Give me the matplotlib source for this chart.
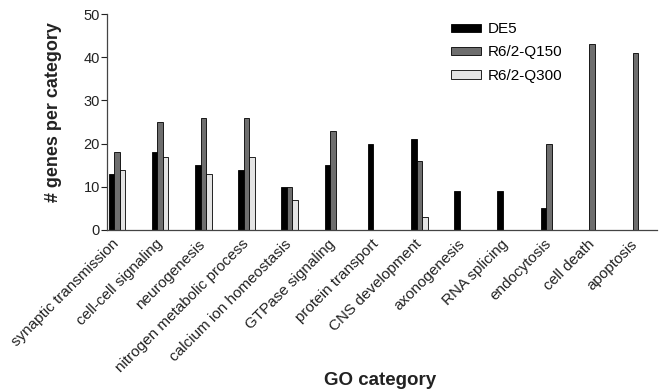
import numpy as np
import matplotlib
matplotlib.use('Agg')
import matplotlib.pyplot as plt
import matplotlib.transforms as mtransforms

plt.rcParams['font.family'] = ['Liberation Sans', 'DejaVu Sans']

categories = ['synaptic transmission', 'cell-cell signaling', 'neurogenesis',
              'nitrogen metabolic process', 'calcium ion homeostasis',
              'GTPase signaling', 'protein transport', 'CNS development',
              'axonogenesis', 'RNA splicing', 'endocytosis', 'cell death',
              'apoptosis']

de5 = [13, 18, 15, 14, 10, 15, 20, 21, 9, 9, 5, 0, 0]
q150 = [18, 25, 26, 26, 10, 23, 0, 16, 0, 0, 20, 43, 41]
q300 = [14, 17, 13, 17, 7, 0, 0, 3, 0, 0, 0, 0, 0]

x = np.arange(len(categories))
w = 0.128

fig = plt.figure(figsize=(6.62, 3.91), dpi=100)
ax = fig.add_axes([0.1616, 0.4118, 0.8308, 0.552])

ax.bar(x - w, de5, w, color='black', edgecolor='black', linewidth=0.6, label='DE5')
ax.bar(x, q150, w, color='#6e6e6e', edgecolor='black', linewidth=0.6, label='R6/2-Q150')
ax.bar(x + w, q300, w, color='#e4e4e4', edgecolor='black', linewidth=0.6, label='R6/2-Q300')

ax.set_xlim(-0.23, 12.5)
ax.set_ylim(0, 50)
ax.set_yticks([0, 10, 20, 30, 40, 50])
ax.tick_params(axis='y', labelsize=10.5, length=4, width=0.8, colors='#222222', pad=1)
ax.set_xticks(x)
ax.set_xticklabels(categories, rotation=45, ha='right', rotation_mode='anchor',
                   fontsize=11, color='#222222')
ax.tick_params(axis='x', length=0, pad=5)

# nudge the rotated labels a little to the left
shift = mtransforms.ScaledTranslation(-5 / 100, 0, fig.dpi_scale_trans)
for lab in ax.get_xticklabels():
    lab.set_transform(lab.get_transform() + shift)

for s in ['top', 'right']:
    ax.spines[s].set_visible(False)
for s in ['left', 'bottom']:
    ax.spines[s].set_color('#444444')
    ax.spines[s].set_linewidth(0.9)

ax.set_ylabel('# genes per category', fontsize=13, fontweight='bold', color='#222222')
ax.yaxis.set_label_coords(-0.082, 0.546)
fig.text(0.574, 0.016, 'GO category', fontsize=13.5, fontweight='bold', color='#222222',
         ha='center', va='baseline')

ax.legend(loc='upper left', bbox_to_anchor=(0.6, 1.026), frameon=False, fontsize=11,
          handlelength=2.0, handleheight=0.5, labelspacing=0.6, handletextpad=0.4)

plt.savefig('out.png', dpi=100)
plt.close()
